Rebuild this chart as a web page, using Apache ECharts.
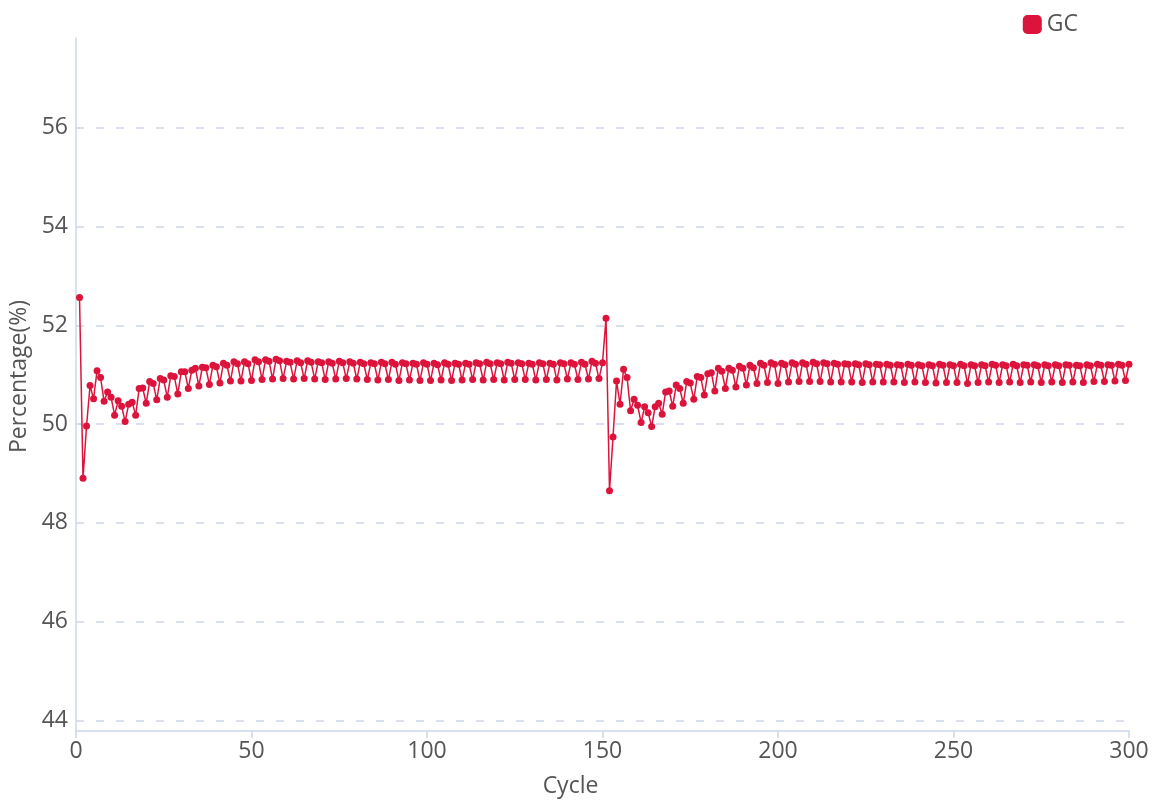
<!DOCTYPE html>
<html>
<head>
<meta charset="utf-8">
<script src="https://cdn.jsdelivr.net/npm/echarts@6/dist/echarts.min.js"></script>
<style>
html,body{margin:0;padding:0;background:#fff;}
#chart{width:1169px;height:803px;}
</style>
</head>
<body>
<div id="chart"></div>
<script>
// GC percentage per cycle (cycles 1..300)
var gcSeg1 = [
52.56,48.90,49.96,50.78,50.51,51.08,50.94,50.46,50.65,50.54,
50.18,50.47,50.36,50.05,50.40,50.44,50.18,50.72,50.73,50.42,
50.86,50.82,50.49,50.92,50.89,50.54,50.98,50.96,50.61,51.06,
51.06,50.72,51.09,51.13,50.77,51.15,51.14,50.80,51.19,51.16,
50.83,51.23,51.19,50.87,51.26,51.22,50.87,51.26,51.22,50.88,
51.30,51.26,50.90,51.30,51.27,50.91,51.31,51.28,50.92,51.27,
51.25,50.91,51.28,51.24,50.92,51.28,51.25,50.91,51.26,51.24,
50.90,51.26,51.23,50.91,51.27,51.24,50.92,51.26,51.23,50.91,
51.25,51.22,50.90,51.24,51.22,50.89,51.25,51.22,50.90,51.25,
51.21,50.88,51.24,51.22,50.89,51.23,51.21,50.88,51.24,51.21,
50.88,51.23,51.20,50.89,51.24,51.21,50.88,51.23,51.21,50.89,
51.23,51.21,50.90,51.24,51.22,50.89,51.25,51.22,50.90,51.24,
51.22,50.89,51.25,51.23,50.90,51.24,51.22,50.90,51.23,51.21,
50.89,51.24,51.22,50.90,51.23,51.21,50.89,51.24,51.22,50.91,
51.24,51.21,50.90,51.25,51.21,50.91,51.27,51.23,50.92,51.24
];
var gcSeg2 = [
52.14,48.65,49.74,50.87,50.40,51.11,50.94,50.27,50.50,50.38,
50.03,50.35,50.23,49.95,50.35,50.42,50.20,50.65,50.67,50.36,
50.79,50.72,50.42,50.86,50.83,50.50,50.96,50.94,50.59,51.02,
51.04,50.67,51.13,51.07,50.72,51.13,51.09,50.75,51.17,51.13,
50.79,51.19,51.14,50.82,51.23,51.19,50.84,51.24,51.21,50.82,
51.23,51.20,50.85,51.24,51.21,50.86,51.24,51.21,50.86,51.25,
51.22,50.86,51.24,51.22,50.85,51.23,51.21,50.85,51.22,51.21,
50.85,51.22,51.20,50.84,51.22,51.20,50.85,51.21,51.20,50.85,
51.21,51.19,50.85,51.20,51.19,50.84,51.21,51.19,50.85,51.20,
51.18,50.84,51.20,51.18,50.83,51.21,51.19,50.84,51.20,51.18,
50.84,51.21,51.18,50.82,51.20,51.18,50.84,51.20,51.18,50.85,
51.21,51.19,50.84,51.20,51.18,50.85,51.21,51.18,50.84,51.20,
51.19,50.85,51.20,51.18,50.84,51.20,51.18,50.85,51.20,51.18,
50.84,51.20,51.19,50.85,51.19,51.18,50.84,51.20,51.18,50.86,
51.21,51.19,50.86,51.20,51.19,50.87,51.21,51.19,50.88,51.21
];
var gcValues = gcSeg1.concat(gcSeg2);
var cycles = gcValues.map(function (v, i) { return i + 1; });
var xTicks = [0, 50, 100, 150, 200, 250, 300];
var yTicks = [44, 46, 48, 50, 52, 54, 56];

var seriesData = cycles.map(function (c, i) { return [c, gcValues[i]]; });

var chart = echarts.init(document.getElementById('chart'), null, {renderer: 'canvas'});
var font = '"Open Sans", sans-serif';
var axisColor = '#ccd6eb';
var textColor = '#555555';
chart.setOption({
  animation: false,
  backgroundColor: '#ffffff',
  textStyle: {fontFamily: font},
  legend: {
    data: ['GC'],
    top: 8,
    right: 86,
    icon: 'roundRect',
    itemWidth: 19,
    itemHeight: 19,
    itemGap: 10,
    textStyle: {fontFamily: font, fontSize: 23, color: textColor}
  },
  grid: {left: 76, right: 40, top: 38, bottom: 72, containLabel: false, outerBoundsMode: 'none'},
  xAxis: {
    type: 'value',
    min: xTicks[0],
    max: xTicks[xTicks.length - 1],
    interval: xTicks[1] - xTicks[0],
    name: 'Cycle',
    nameLocation: 'middle',
    nameGap: 44,
    nameTextStyle: {fontFamily: font, fontSize: 23, color: textColor, padding: [0, 64, 0, 0]},
    axisLine: {show: true, lineStyle: {color: axisColor, width: 1.5}},
    axisTick: {show: true, length: 7, lineStyle: {color: axisColor, width: 1.5}},
    axisLabel: {fontFamily: font, fontSize: 23, color: textColor, margin: 9},
    splitLine: {show: false}
  },
  yAxis: {
    type: 'value',
    min: function (v) { return v.min * 0.9; },
    max: function (v) { return v.max * 1.1; },
    splitNumber: 7,
    name: 'Percentage(%)',
    nameLocation: 'middle',
    nameGap: 42,
    nameTextStyle: {fontFamily: font, fontSize: 23, color: textColor, padding: [0, 0, 0, 16]},
    axisLine: {show: true, lineStyle: {color: axisColor, width: 1.5}},
    axisTick: {show: false},
    axisLabel: {
      fontFamily: font, fontSize: 23, color: textColor, margin: 8,
      showMinLabel: false, showMaxLabel: false,
      formatter: function (v) { return yTicks.indexOf(v) >= 0 ? String(v) : ''; }
    },
    splitLine: {show: true, showMinLine: false, showMaxLine: false,
      lineStyle: {color: axisColor, type: [8, 12], width: 1.5}}
  },
  series: [{
    name: 'GC',
    type: 'line',
    data: seriesData,
    symbol: 'circle',
    symbolSize: 7,
    showSymbol: true,
    showAllSymbol: true,
    color: '#dc143c',
    lineStyle: {width: 1.5, color: '#dc143c'},
    itemStyle: {color: '#dc143c'}
  }]
});
</script>
</body>
</html>
